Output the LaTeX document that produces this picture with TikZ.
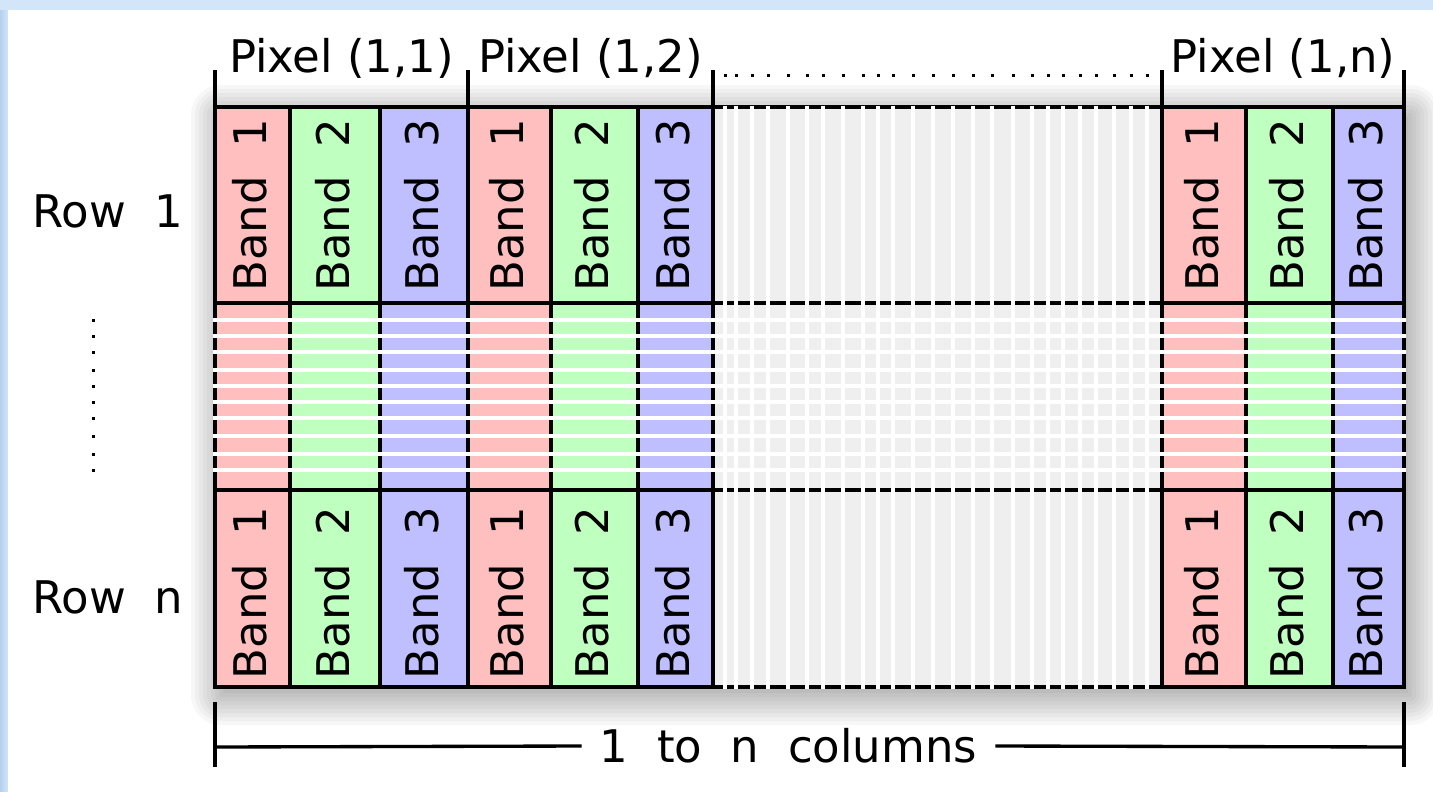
\documentclass[tikz,border=0pt]{standalone}
\usepackage{fontspec}
\setmainfont{DejaVu Sans}[WordSpace=2.0]
\newfontfamily\tightfont{DejaVu Sans}
\definecolor{bandred}{HTML}{FFBFBF}
\definecolor{bandgreen}{HTML}{BFFFBF}
\definecolor{bandblue}{HTML}{BFBFFF}
\definecolor{gapgray}{HTML}{EFEFEF}
\definecolor{pageblue}{HTML}{D3E6F9}
\definecolor{edgeblue}{HTML}{B4D0EE}
\begin{document}
\begin{tikzpicture}[x=0.02cm, y=-0.02cm,
  grid/.style={line width=1.9pt, black},
  cutline/.style={white, line width=2.0pt},
  cutstripe/.style={white, line width=2.3pt},
  shadowlayer/.style={fill=black, fill opacity=0.03},
  lbl/.style={inner sep=0pt, font=\fontsize{25.6}{30}\selectfont},
  pixlbl/.style={lbl, anchor=base, font=\fontsize{25.6}{30}\selectfont\tightfont},
  bandlbl/.style={lbl, rotate=90, anchor=base},
  rowlbl/.style={lbl, anchor=base west}]

% page background
\useasboundingbox (0,0) rectangle (1433,791);
\fill[pageblue] (0,0) rectangle (1433,791);
\shade[left color=edgeblue, right color=pageblue] (0,10) rectangle (8,791);
\fill[white] (8,10) rectangle (1433,791);

% soft shadow under the table, built from stacked translucent layers
\begin{scope}
\clip (8,10) rectangle (1433,791);
\foreach \e in {30,26,...,-30} {
  \pgfmathsetmacro{\rc}{max(\e,1)*0.02}
  \fill[shadowlayer, rounded corners=\rc cm]
    (221-\e,115-\e) rectangle (1410+\e,695+\e);
}
\end{scope}

% band columns
\foreach \xa/\xb/\c in {215/290/bandred, 290/380/bandgreen, 380/468/bandblue,
  468/551/bandred, 551/638/bandgreen, 638/713/bandblue,
  1162/1246/bandred, 1246/1333/bandgreen, 1333/1404/bandblue}
  \fill[\c] (\xa,107) rectangle (\xb,687);
\fill[gapgray] (713,107) rectangle (1162,687);

% grid lines
\draw[grid] (215,107) rectangle (1404,687);
\foreach \yy in {303,490} \draw[grid] (215,\yy) -- (1404,\yy);
\foreach \xx in {290,380,468,551,638,713,1162,1246,1333}
  \draw[grid] (\xx,107) -- (\xx,687);

% white vertical lines through the elided columns
\foreach \xx in {725,736,752,768,788,807,823,843,863,878,893,913,933,953,973,992,1013,1032,1048,1063,1080,1096,1114,1131,1147}
  \draw[cutline] (\xx,105.5) -- (\xx,688.5);

% white horizontal lines through the elided rows
\foreach \yy in {320,336,352,370,386,402,418,436,454,470}
  \draw[cutstripe] (213.2,\yy) -- (1405.8,\yy);

% header
\foreach \xx in {215,468,713,1162,1404}
  \draw[grid] (\xx,70) -- (\xx,107);
\node[pixlbl] (p11) at (341.5,72) {Pixel (1,1)};
\node[pixlbl] (p12) at (590.5,72) {Pixel (1,2)};
\node[pixlbl] (p1n) at (1283,72) {Pixel (1,n)};
\foreach \xx in {725,736,752,768,788,807,823,843,863,878,893,913,933,953,973,992,1013,1032,1048,1063,1080,1096,1114,1131,1147}
  \fill (\xx-1.5,73.5) rectangle +(3,3);

% row labels
\node[rowlbl] (row1) at (32,227) {Row 1};
\node[rowlbl] (rown) at (32,613) {Row n};
\foreach \yy in {320,336,352,370,386,402,418,436,454,470}
  \fill (93-1.5,\yy-1.5) rectangle +(3,3);

% band labels
\foreach \xa/\xb/\n/\id in {215/290/1/a, 290/380/2/b, 380/468/3/c,
  468/551/1/d, 551/638/2/e, 638/713/3/f,
  1162/1246/1/g, 1246/1333/2/h, 1333/1404/3/i} {
  \node[bandlbl] (top\id) at ({(\xa+\xb)/2+14},205.5) {Band \n};
  \node[bandlbl] (bot\id) at ({(\xa+\xb)/2+14},593) {Band \n};
}

% column span measure
\coordinate (mL) at (215,747);
\coordinate (mR) at (1404,747);
\draw[grid] (215,702) -- (215,767);
\draw[grid] (1404,702) -- (1404,767);
\node[lbl, minimum width=413*0.02cm] (cols) at (788.5,746) {1 to n columns};
\draw[grid] (mL) -- (cols.west);
\draw[grid] (cols.east) -- (mR);
\end{tikzpicture}
\end{document}
